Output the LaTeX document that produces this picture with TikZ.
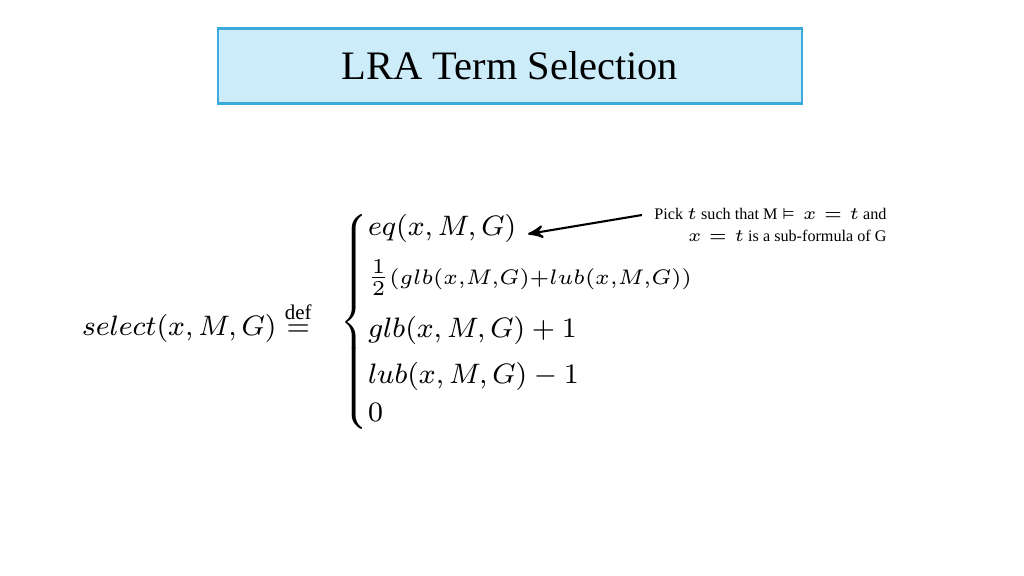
\documentclass[tikz,border=0pt]{standalone}
\usepackage{amsmath,amssymb}
\usepackage{fontspec}
\setmainfont{Liberation Serif}
\usetikzlibrary{arrows,positioning}
\definecolor{titlefill}{RGB}{204,236,249}
\definecolor{titledraw}{RGB}{60,170,220}
\tikzset{
    %Define standard arrow tip
    >=stealth',
    %Define style for the title box
    titlebox/.style={
           rectangle,
           draw=titledraw, semithick,
           fill=titlefill,
           minimum width=5.84cm,
           minimum height=0.75cm,
           font=\fontsize{11.5}{14}\selectfont},
    formula/.style={
           font=\fontsize{8.5}{11}\selectfont},
    annote/.style={
           align=right,
           font=\fontsize{4.6}{6.2}\selectfont},
    % Define arrow style
    arrow/.style={
           ->,
           semithick},
}
\begin{document}
\begin{tikzpicture}[x=0.01cm,y=-0.01cm]
  \useasboundingbox (0,0) rectangle (1024,576);
  \node[titlebox] (title) at (510,66) {LRA Term Selection};
  \node[formula, anchor=east] (lhs) at (324,322)
      {$select(x,M,G)\stackrel{\text{def}}{=}$};
  \node[formula, anchor=west, inner sep=0pt] (cases) at (340,322)
      {$\left\{\begin{array}{@{}l@{}}
        eq(x,M,G)\\[3pt]
        \tfrac{1}{2}{\scriptstyle(glb(x,M,G)+lub(x,M,G))}\\[4pt]
        glb(x,M,G)+1\\[2pt]
        lub(x,M,G)-1\\[0pt]
        0\rule[-4pt]{0pt}{4pt}
      \end{array}\right.$};
  \node[annote, anchor=north east] (pick) at (899,196)
      {Pick $t$ such that M $\vDash x=t$ and\\
       $x=t$ is a sub-formula of G};
  \coordinate (eqend) at (528,234);
  \draw[arrow] (pick.west |- 0,215) -- (eqend);
\end{tikzpicture}
\end{document}
